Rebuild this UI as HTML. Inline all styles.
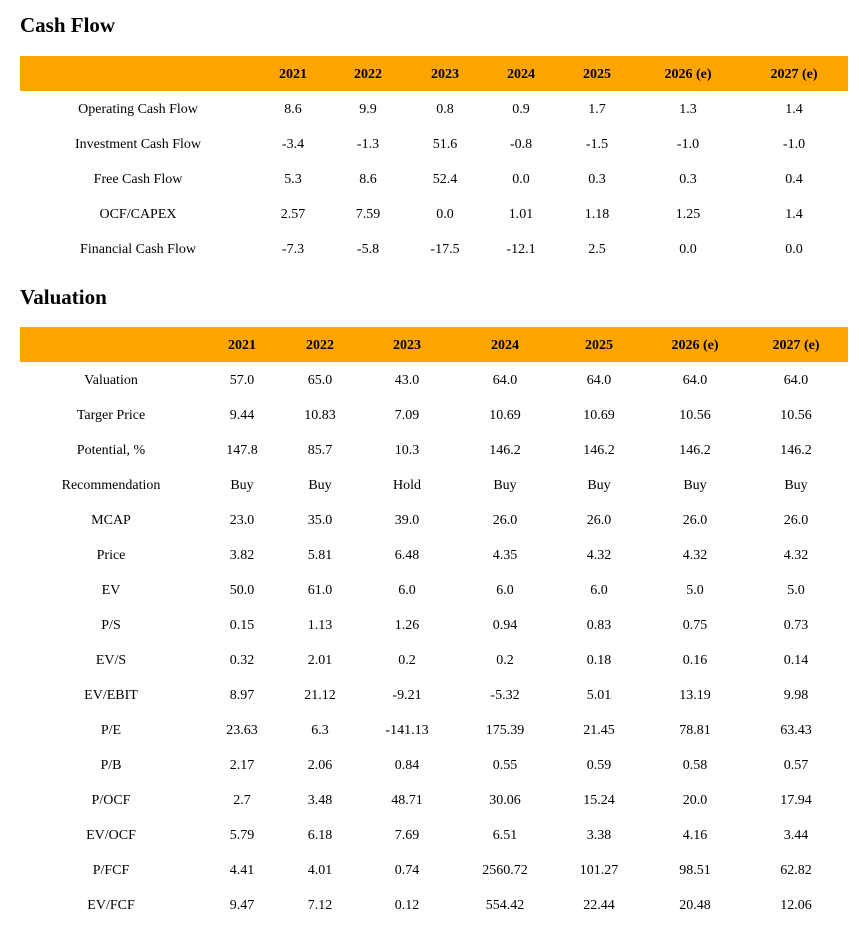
<!DOCTYPE html>
<html><head><meta charset="utf-8"><style>
body{margin:0;width:859px;height:932px;background:#fff;font-family:"Liberation Serif",serif;color:#000;position:relative;overflow:hidden}
h2{position:absolute;left:20px;margin:0;font-size:21px;font-weight:bold;line-height:24px}
.hd{position:absolute;left:20px;width:828px;height:35px;background:#FFA500}
.c{position:absolute;font-size:14px;line-height:18px;transform:translate(-50%,-50%);white-space:nowrap}
.b{font-weight:bold}
</style></head><body>
<h2 style="top:13px">Cash Flow</h2>
<div class="hd" style="top:56px"></div>
<h2 style="top:285px">Valuation</h2>
<div class="hd" style="top:327px"></div>
<div id="t"></div>
<script>
function tbl(cols,hy,rows){
 var h='';var hdr=['','2021','2022','2023','2024','2025','2026 (e)','2027 (e)'];
 for(var i=1;i<8;i++)h+='<div class="c b" style="left:'+cols[i]+'px;top:'+hy+'px">'+hdr[i]+'</div>';
 rows.forEach(function(r,j){var y=hy+35*(j+1);
  for(var i=0;i<8;i++)h+='<div class="c" style="left:'+cols[i]+'px;top:'+y+'px">'+r[i]+'</div>';});
 return h;}
var cf=[["Operating Cash Flow","8.6","9.9","0.8","0.9","1.7","1.3","1.4"],
["Investment Cash Flow","-3.4","-1.3","51.6","-0.8","-1.5","-1.0","-1.0"],
["Free Cash Flow","5.3","8.6","52.4","0.0","0.3","0.3","0.4"],
["OCF/CAPEX","2.57","7.59","0.0","1.01","1.18","1.25","1.4"],
["Financial Cash Flow","-7.3","-5.8","-17.5","-12.1","2.5","0.0","0.0"]];
var va=[["Valuation","57.0","65.0","43.0","64.0","64.0","64.0","64.0"],
["Targer Price","9.44","10.83","7.09","10.69","10.69","10.56","10.56"],
["Potential, %","147.8","85.7","10.3","146.2","146.2","146.2","146.2"],
["Recommendation","Buy","Buy","Hold","Buy","Buy","Buy","Buy"],
["MCAP","23.0","35.0","39.0","26.0","26.0","26.0","26.0"],
["Price","3.82","5.81","6.48","4.35","4.32","4.32","4.32"],
["EV","50.0","61.0","6.0","6.0","6.0","5.0","5.0"],
["P/S","0.15","1.13","1.26","0.94","0.83","0.75","0.73"],
["EV/S","0.32","2.01","0.2","0.2","0.18","0.16","0.14"],
["EV/EBIT","8.97","21.12","-9.21","-5.32","5.01","13.19","9.98"],
["P/E","23.63","6.3","-141.13","175.39","21.45","78.81","63.43"],
["P/B","2.17","2.06","0.84","0.55","0.59","0.58","0.57"],
["P/OCF","2.7","3.48","48.71","30.06","15.24","20.0","17.94"],
["EV/OCF","5.79","6.18","7.69","6.51","3.38","4.16","3.44"],
["P/FCF","4.41","4.01","0.74","2560.72","101.27","98.51","62.82"],
["EV/FCF","9.47","7.12","0.12","554.42","22.44","20.48","12.06"]];
document.getElementById('t').innerHTML=
 tbl([138,293,368,445,521,597,688,794],75,cf)+
 tbl([111,242,320,407,505,599,695,796],346,va);
</script>
</body></html>
